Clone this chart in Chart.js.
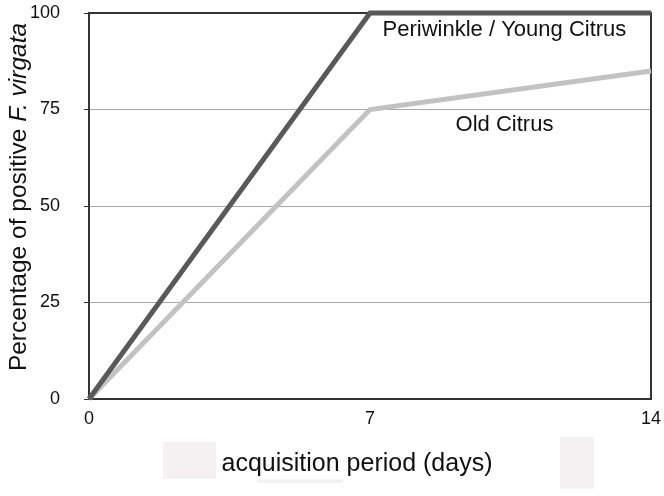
<!DOCTYPE html>
<html>
<head>
<meta charset="utf-8">
<script src="https://cdn.jsdelivr.net/npm/chart.js@4"></script>
<style>
  html, body { margin: 0; padding: 0; background: #ffffff; }
  #wrap { width: 664px; height: 496px; }
</style>
</head>
<body>
<div id="wrap"><canvas id="chart" width="664" height="496"></canvas></div>
<script>
// data
const days = [0, 7, 14];
const periwinkleYoung = [0, 100, 100];
const oldCitrus = [0, 75, 85];
const yTicks = [0, 25, 50, 75, 100];
const xTicks = [0, 7, 14];

const FONT = "'Liberation Sans', Arial, sans-serif";

// box round the plot, faint scan marks, titles and line labels
const decor = {
  id: "decor",
  beforeDraw(chart) {
    const c = chart.ctx;
    c.save();
    c.fillStyle = "#f5f0f1";
    c.fillRect(163, 442, 53, 37);
    c.fillRect(258, 479, 85, 4);
    c.fillRect(560, 437, 34, 52);
    c.restore();
  },
  beforeDatasetsDraw(chart) {
    const a = chart.chartArea;
    const c = chart.ctx;
    c.save();
    c.strokeStyle = "#333333";
    c.lineWidth = 2;
    c.strokeRect(a.left, a.top, a.right - a.left, a.bottom - a.top);
    c.restore();
  },
  afterDraw(chart) {
    const c = chart.ctx;
    const x = chart.scales.x;
    const y = chart.scales.y;
    c.save();
    c.fillStyle = "#111111";

    // line labels
    c.font = "22px " + FONT;
    c.textAlign = "center";
    c.textBaseline = "alphabetic";
    c.fillText("Periwinkle / Young Citrus", x.getPixelForValue(10.35), 36);
    c.fillText("Old Citrus", x.getPixelForValue(10.35), 131);

    // x title
    c.font = "25px " + FONT;
    c.fillText("acquisition period (days)", 357, 471);

    // y title with italic species name
    const p1 = "Percentage of positive ";
    const p2 = "F. virgata";
    const fs = "24.5px ";
    c.font = fs + FONT;
    const w1 = c.measureText(p1).width;
    c.font = "italic " + fs + FONT;
    const w2 = c.measureText(p2).width;
    const cy = (y.top + y.bottom) / 2 - 9;
    c.translate(26, cy);
    c.rotate(-Math.PI / 2);
    c.textAlign = "left";
    c.font = fs + FONT;
    c.fillText(p1, -(w1 + w2) / 2, 0);
    c.font = "italic " + fs + FONT;
    c.fillText(p2, -(w1 + w2) / 2 + w1, 0);
    c.restore();
  }
};

new Chart(document.getElementById("chart"), {
  type: "line",
  data: {
    datasets: [
      {
        label: "Periwinkle / Young Citrus",
        data: days.map((d, i) => ({ x: d, y: periwinkleYoung[i] })),
        borderColor: "#595959",
        borderWidth: 5,
        pointRadius: 0,
        tension: 0,
        clip: 6,
        order: 1
      },
      {
        label: "Old Citrus",
        data: days.map((d, i) => ({ x: d, y: oldCitrus[i] })),
        borderColor: "#c2c2c2",
        borderWidth: 5,
        pointRadius: 0,
        tension: 0,
        clip: 6,
        order: 2
      }
    ]
  },
  options: {
    responsive: false,
    animation: false,
    layout: { padding: { top: 13, right: 13, left: 0, bottom: 0 } },
    plugins: {
      legend: { display: false },
      tooltip: { enabled: false }
    },
    scales: {
      x: {
        type: "linear",
        min: 0,
        max: 14,
        afterBuildTicks: (axis) => {
          axis.ticks = xTicks.map((v) => ({ value: v }));
        },
        afterFit: (axis) => {
          axis.height = 97;
          axis.paddingLeft = 0;
          axis.paddingRight = 0;
        },
        grid: { display: false, drawTicks: false },
        border: { display: false },
        ticks: {
          color: "#111111",
          font: { family: FONT, size: 18 },
          padding: 9,
          maxRotation: 0
        }
      },
      y: {
        min: 0,
        max: 100,
        afterBuildTicks: (axis) => {
          axis.ticks = yTicks.map((v) => ({ value: v }));
        },
        afterFit: (axis) => {
          axis.width = 89;
          axis.paddingTop = 0;
          axis.paddingBottom = 0;
        },
        grid: {
          color: (ctx) =>
            ctx.tick && ctx.tick.value > 0 && ctx.tick.value < 100
              ? "#a8a8a8"
              : "rgba(0,0,0,0)",
          tickColor: "#333333",
          tickLength: 5,
          lineWidth: 1
        },
        border: { display: false },
        ticks: {
          color: "#111111",
          font: { family: FONT, size: 18 },
          padding: 24
        }
      }
    }
  },
  plugins: [decor]
});
</script>
</body>
</html>
